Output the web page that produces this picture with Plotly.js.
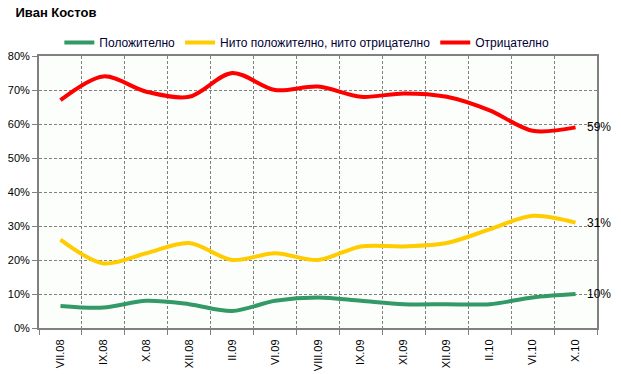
<!DOCTYPE html>
<html><head><meta charset="utf-8">
<script src="https://cdn.plot.ly/plotly-3.0.1.min.js"></script>
<style>html,body{margin:0;padding:0;background:#fff;}#chart{width:621px;height:374px;}</style>
</head><body><div id="chart"></div>
<script>
const categories = ["VII.08","IX.08","X.08","XII.08","II.09","VI.09","VIII.09","IX.09","XI.09","XII.09","II.10","VI.10","X.10"];
const positive = [6.5, 6, 8, 7, 5, 8, 9, 8, 7, 7, 7, 9, 10];
const neutral  = [26, 19, 22, 25, 20, 22, 20, 24, 24, 25, 29, 33, 31];
const negative = [67, 74, 69.5, 68, 75, 70, 71, 68, 69, 68, 64, 58, 59];
const names = ["Положително", "Нито положително, нито отрицателно", "Отрицателно"];
const colors = ["#339966", "#FFCC00", "#FF0000"];
const seriesList = [positive, neutral, negative];

const traces = seriesList.map((s, i) => ({
  x: categories, y: s.map(v => v / 100), name: names[i], type: "scatter", mode: "lines",
  line: {color: colors[i], width: 4, shape: "spline", smoothing: 0.9},
  hoverinfo: "skip"
}));

const annotations = seriesList.map(s => ({
  x: categories[categories.length - 1], y: s[s.length - 1] / 100,
  xref: "x", yref: "y", text: Math.round(s[s.length - 1]) + "%",
  showarrow: false, xanchor: "left", xshift: 9,
  font: {family: "Liberation Sans, Arial", size: 12, color: "#000"}
}));

const layout = {
  width: 621, height: 374,
  margin: {l: 39, r: 24, t: 56, b: 46},
  paper_bgcolor: "#ffffff", plot_bgcolor: "#fcfefc",
  title: {text: "<b>Иван Костов</b>", x: 0.025, xanchor: "left", y: 0.967, yanchor: "middle",
          font: {family: "Liberation Sans, Arial", size: 13, color: "#000"}},
  showlegend: true,
  legend: {orientation: "h", x: 0.48, xanchor: "center", y: 1.05, yanchor: "middle",
           font: {family: "Liberation Sans, Arial", size: 12, color: "#000033"},
           bgcolor: "rgba(0,0,0,0)", itemwidth: 30, tracegroupgap: 0},
  xaxis: {type: "category", tickson: "boundaries", showgrid: true, gridcolor: "#808080",
          griddash: "3px,2px", gridwidth: 1, ticks: "outside", ticklen: 5, tickcolor: "#808080",
          showline: true, linecolor: "#808080", linewidth: 2, mirror: true,
          tickangle: -90, ticklabelstandoff: 5,
          tickfont: {family: "Liberation Sans, Arial", size: 11, color: "#000"},
          range: [-0.5, 12.5], fixedrange: true},
  yaxis: {range: [0, 0.8], dtick: 0.1, tickformat: ".0%", showgrid: true, gridcolor: "#808080",
          griddash: "3px,2px", gridwidth: 1, ticks: "outside", ticklen: 5, tickcolor: "#808080",
          showline: true, linecolor: "#808080", linewidth: 2, mirror: true, zeroline: false,
          tickfont: {family: "Liberation Sans, Arial", size: 11, color: "#000"}, fixedrange: true},
  annotations: annotations
};
Plotly.newPlot("chart", traces, layout, {displayModeBar: false, staticPlot: true});
</script></body></html>
